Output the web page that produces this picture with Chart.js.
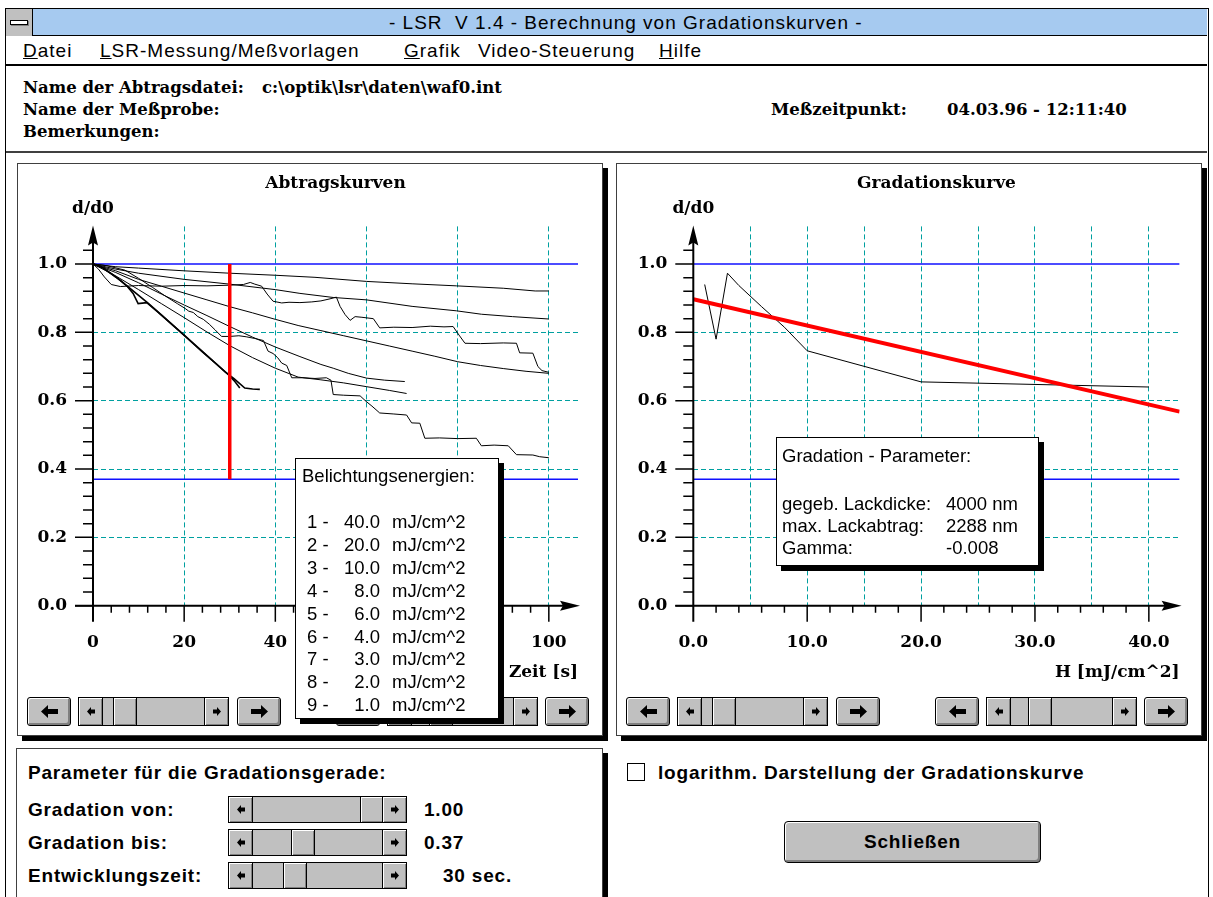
<!DOCTYPE html>
<html lang="de">
<head>
<meta charset="utf-8">
<title>LSR V 1.4 - Berechnung von Gradationskurven</title>
<script src="https://cdn.jsdelivr.net/npm/chart.js@4.4.1/dist/chart.umd.min.js"></script>
<style>
  html, body { margin: 0; padding: 0; }
  body { width: 1213px; height: 897px; overflow: hidden; background: #fff; position: relative;
         font-family: "Liberation Sans", Arial, sans-serif; color: #000; }
  .abs { position: absolute; white-space: pre; }
  .fenster { left: 5px; top: 8px; width: 1202px; height: 900px; border: 1px solid #000; }
  .titel { left: 6px; top: 9px; width: 1201px; height: 27px; background: #a6caf0; border-bottom: 1px solid #000;
           font-size: 19px; letter-spacing: 1px; line-height: 28px; box-sizing: border-box; padding-left: 383px; }
  .sysmenu { left: 6px; top: 9px; width: 26px; height: 27px; background: #c0c0c0; border-right: 1px solid #000; }
  .sysmenu div { position: absolute; left: 4px; top: 11px; width: 16px; height: 3px; background: #fff;
                 border: 1px solid #000; box-shadow: 1px 1px 0 #808080; }
  .menue { left: 6px; top: 37px; width: 1201px; height: 27px; border-bottom: 2px solid #000; }
  .menue span { position: absolute; top: 3px; font-size: 19px; letter-spacing: 1px; line-height: 22px; }
  .kopf { font-family: "DejaVu Serif", serif; font-weight: bold; font-size: 16.5px; line-height: 22px; }
  .kopfende { left: 6px; top: 151px; width: 1201px; height: 2px; background: #404040; }
  .panel { background: #fff; border: 1px solid #404040; box-shadow: 5px 5px 0 #000; box-sizing: border-box; }
  .box { background: #fff; border: 1px solid #000; box-shadow: 5px 5px 0 #000; box-sizing: border-box;
         font-size: 18.5px; line-height: 22px; }
  .box span { position: absolute; white-space: pre; }
  .ui { font-weight: bold; font-size: 19px; line-height: 22px; letter-spacing: 0.8px; }
  .knopf { position: absolute; background: #c0c0c0; border: 1px solid #000; border-radius: 3px; box-sizing: border-box;
           box-shadow: inset 1px 1px 0 #fff, inset -2px -2px 0 #808080;
           display: flex; align-items: center; justify-content: center; }
  .leiste { position: absolute; background: #c0c0c0; border: 1px solid #000; box-sizing: border-box; }
  .leiste div { position: absolute; top: 0; bottom: 0; width: 24px; background: #c0c0c0; box-sizing: border-box;
                box-shadow: inset 1px 1px 0 #fff, inset -1px -1px 0 #808080;
                display: flex; align-items: center; justify-content: center; }
  .leiste .pl { left: 0; border-right: 1px solid #000; }
  .leiste .pr { right: 0; border-left: 1px solid #000; }
  .leiste .daumen { border-left: 1px solid #000; border-right: 1px solid #000; }
  canvas { position: absolute; }
</style>
</head>
<body>

<div class="abs fenster"></div>
<div class="abs titel">- LSR  V 1.4 - Berechnung von Gradationskurven -</div>
<div class="abs sysmenu"><div></div></div>
<div class="abs menue">
  <span style="left:17px"><u>D</u>atei</span>
  <span style="left:94px"><u>L</u>SR-Messung/Meßvorlagen</span>
  <span style="left:398px"><u>G</u>rafik</span>
  <span style="left:472px">Video-Steuerung</span>
  <span style="left:653px"><u>H</u>ilfe</span>
</div>

<div class="abs kopf" style="left:23px; top:77px">Name der Abtragsdatei:</div>
<div class="abs kopf" style="left:262px; top:77px">c:\optik\lsr\daten\waf0.int</div>
<div class="abs kopf" style="left:23px; top:99px">Name der Meßprobe:</div>
<div class="abs kopf" style="left:771px; top:99px">Meßzeitpunkt:</div>
<div class="abs kopf" style="left:947px; top:99px">04.03.96 - 12:11:40</div>
<div class="abs kopf" style="left:23px; top:121px">Bemerkungen:</div>
<div class="abs kopfende"></div>

<div class="abs panel" style="left:17px; top:163px; width:586px; height:573px"></div>
<div class="abs panel" style="left:616px; top:163px; width:586px; height:573px"></div>

<canvas id="abtrag" width="584" height="532" style="left:16px; top:164px"></canvas>
<canvas id="gradation" width="586" height="532" style="left:616px; top:164px"></canvas>

<div class="abs box" id="legende" style="left:295px; top:458px; width:204px; height:261px">
  <span style="left:6px; top:6px">Belichtungsenergien:</span>
</div>

<div class="abs box" style="left:776px; top:437px; width:263px; height:129px">
  <span style="left:5px; top:7px">Gradation - Parameter:</span>
  <span style="left:5px; top:55px">gegeb. Lackdicke:</span><span style="left:169px; top:55px">4000 nm</span>
  <span style="left:5px; top:77px">max. Lackabtrag:</span><span style="left:169px; top:77px">2288 nm</span>
  <span style="left:5px; top:99px">Gamma:</span><span style="left:169px; top:99px">-0.008</span>
</div>

<div class="abs panel" style="left:16px; top:748px; width:587px; height:170px"></div>
<div class="abs ui" style="left:28px; top:762px">Parameter für die Gradationsgerade:</div>
<div class="abs ui" style="left:28px; top:799px">Gradation von:</div>
<div class="abs ui" style="left:28px; top:832px">Gradation bis:</div>
<div class="abs ui" style="left:28px; top:865px">Entwicklungszeit:</div>
<div class="abs ui" id="wertVon" style="left:424px; top:799px"></div>
<div class="abs ui" id="wertBis" style="left:424px; top:832px"></div>
<div class="abs ui" id="wertZeit" style="left:443px; top:865px"></div>

<div class="abs" style="left:627px; top:763px; width:16px; height:16px; border:1px solid #000; background:#fff"></div>
<div class="abs ui" style="left:658px; top:762px">logarithm. Darstellung der Gradationskurve</div>
<div class="knopf ui" style="left:784px; top:821px; width:257px; height:42px; border-radius:4px">Schließen</div>

<script>
// ==================== Messwerte ====================
// Belichtungsenergien in mJ/cm^2, Reihenfolge wie in der Legende
const energien = [40.0, 20.0, 10.0, 8.0, 6.0, 4.0, 3.0, 2.0, 1.0];

// Abtragskurven: [Zeit s, d/d0]
const kurve40 = [[0, 1.0], [2, 0.99], [5, 0.962], [8, 0.93], [10, 0.908], [12, 0.886], [15, 0.851], [18, 0.815],
  [21, 0.779], [24, 0.743], [27, 0.708], [29.7, 0.676], [31, 0.658], [32.2, 0.637]];
const kurve20 = [[0, 1.0], [2, 0.99], [4, 0.972], [6, 0.952], [7.5, 0.935], [8.8, 0.914], [9.9, 0.884], [11.8, 0.887],
  [14, 0.862], [17, 0.827], [20, 0.792], [23, 0.756], [26, 0.72], [29, 0.684], [31, 0.664], [33.3, 0.637],
  [35, 0.634], [36.6, 0.633]];
const kurve10 = [[0, 1.0], [5, 0.965], [10, 0.925], [15, 0.884], [20, 0.843], [25, 0.801], [30, 0.761], [35, 0.726],
  [40, 0.695], [45, 0.669], [50, 0.661], [55, 0.652], [60, 0.641], [65, 0.63], [68.8, 0.621]];
const kurve8 = [[0, 1.0], [5, 0.975], [10, 0.945], [15, 0.912], [20, 0.88], [25, 0.849], [30, 0.817], [35, 0.786],
  [40, 0.757], [45.4, 0.729], [50, 0.706], [52.7, 0.695], [56, 0.68], [60, 0.666], [64, 0.66], [68.4, 0.656]];
const kurve6 = [[0, 1.0], [5, 0.98], [10, 0.955], [15, 0.935], [20, 0.915], [25, 0.895], [30, 0.875], [35, 0.857],
  [40, 0.838], [45, 0.82], [50, 0.805], [55, 0.79], [60, 0.775], [65, 0.76], [70, 0.745], [75, 0.73], [80, 0.714],
  [85, 0.703], [90, 0.694], [95, 0.686], [100, 0.68]];
const kurve4 = [[0, 1.0], [5, 0.985], [10, 0.973], [20, 0.955], [30, 0.941], [40, 0.925], [45.4, 0.914], [52.7, 0.902],
  [60, 0.895], [70, 0.876], [79.7, 0.863], [85.2, 0.853], [92, 0.846], [100, 0.839]];
const kurve3 = [[0, 1.0], [5, 0.992], [10, 0.988], [20, 0.98], [30, 0.973], [40, 0.967], [48.7, 0.961], [60, 0.949],
  [70, 0.942], [79.7, 0.936], [90, 0.929], [97, 0.921], [100, 0.921]];
const kurve2 = [[0, 1.0], [3, 0.995], [7, 0.982], [10, 0.958], [13, 0.932], [16, 0.905], [18.5, 0.884], [20.2, 0.87],
  [21, 0.862], [22, 0.858], [23, 0.846], [24.2, 0.838], [25.5, 0.824], [26.8, 0.807], [28.2, 0.788], [30, 0.788],
  [32, 0.79], [33.6, 0.787], [35.5, 0.782], [37.4, 0.776], [38.4, 0.745], [39.5, 0.738], [40.5, 0.726], [41.4, 0.71],
  [42.5, 0.703], [43.6, 0.667], [46, 0.667], [48.7, 0.665], [51.2, 0.667], [52.2, 0.66], [52.7, 0.618], [55, 0.616],
  [58.6, 0.614], [59.9, 0.598], [61.2, 0.584], [62.9, 0.564], [66, 0.561], [68.8, 0.558], [69.9, 0.535], [71.7, 0.534],
  [72.8, 0.49], [76, 0.491], [80, 0.489], [84.1, 0.49], [85.2, 0.468], [88, 0.47], [91.1, 0.468], [92.9, 0.442],
  [96.5, 0.441], [98, 0.436], [100, 0.433]];
const kurve1 = [[0, 1.0], [1.2, 0.985], [2.5, 0.962], [4, 0.94], [6, 0.934], [10, 0.937], [15, 0.935], [20, 0.937],
  [25, 0.936], [30, 0.938], [33, 0.94], [34.5, 0.946], [35.5, 0.941], [37, 0.935], [38.2, 0.912], [39.5, 0.891],
  [41.4, 0.886], [43, 0.888], [45.4, 0.887], [48, 0.889], [50, 0.892], [52, 0.898], [53.4, 0.903], [54.2, 0.876],
  [55.3, 0.852], [56.4, 0.835], [57.5, 0.846], [59, 0.844], [61.5, 0.84], [62.9, 0.813], [66, 0.815], [70, 0.814],
  [74, 0.818], [77, 0.816], [79, 0.817], [80.3, 0.792], [81.6, 0.768], [85, 0.767], [90, 0.769], [92.9, 0.768],
  [93.6, 0.74], [96.5, 0.739], [97.6, 0.7], [98.5, 0.688], [100, 0.683]];
const abtragskurven = [kurve40, kurve20, kurve10, kurve8, kurve6, kurve4, kurve3, kurve2, kurve1];

// Gradationskurve: d/d0 nach der Entwicklungszeit über der Energie H
const gradH = [1, 2, 3, 4, 6, 8, 10, 20, 40];
const gradD = [0.94, 0.78, 0.973, 0.937, 0.875, 0.815, 0.746, 0.655, 0.64];
// Gradationsgerade, Anfangs- und Endpunkt
const gradGerade = [[0, 0.897], [42.7, 0.568]];

// Parameter für die Gradationsgerade
const gradVon = 1.00;
const gradBis = 0.37;
const entwicklungszeit = 30;

// Achsen
const zeitMax = 106.4;
const hMax = 42.7;
const dMax = 1.11;
const zeitTicks = [0, 20, 40, 60, 80, 100];
const zeitLabels = ['0', '20', '40', '60', '80', '100'];
const hTicks = [0, 5, 10, 15, 20, 25, 30, 35, 40];
const hLabels = ['0.0', '', '10.0', '', '20.0', '', '30.0', '', '40.0'];
const dTicks = [0, 0.2, 0.4, 0.6, 0.8, 1.0];
const dLabels = ['0.0', '0.2', '0.4', '0.6', '0.8', '1.0'];

// ==================== Stil ====================
const blau = '#1010ff';
const rot = '#ff0000';
const tuerkis = '#00a0a0';
const diaFont = { family: 'DejaVu Serif', size: 17, weight: 'bold' };

// ==================== Achsen mit Pfeilen und Teilstrichen ====================
const achsenPlugin = {
    id: 'achsen',
    afterDatasetsDraw(chart, args, o) {
        const { ctx, chartArea: a, scales: { x, y } } = chart;
        const x0 = x.getPixelForValue(0);
        const y0 = y.getPixelForValue(0);
        ctx.save();
        ctx.strokeStyle = '#000';
        ctx.fillStyle = '#000';

        ctx.lineWidth = 2;
        ctx.beginPath();
        ctx.moveTo(x0, y0 + 16);
        ctx.lineTo(x0, a.top + 10);
        ctx.moveTo(x0 - 18, y0);
        ctx.lineTo(a.right - 10, y0);
        ctx.stroke();

        // Pfeilspitzen
        ctx.beginPath();
        ctx.moveTo(x0, a.top - 1);
        ctx.lineTo(x0 - 5, a.top + 19);
        ctx.lineTo(x0, a.top + 16);
        ctx.lineTo(x0 + 5, a.top + 19);
        ctx.closePath();
        ctx.moveTo(a.right + 2, y0);
        ctx.lineTo(a.right - 18, y0 - 5);
        ctx.lineTo(a.right - 15, y0);
        ctx.lineTo(a.right - 18, y0 + 5);
        ctx.closePath();
        ctx.fill();

        // Teilstriche
        ctx.lineWidth = 1.5;
        ctx.beginPath();
        for (let k = 0; k * o.yMinor <= o.yEnde + 1e-9; k++) {
            const py = y.getPixelForValue(k * o.yMinor);
            ctx.moveTo(x0 - (k % 5 === 0 ? 18 : 10), py);
            ctx.lineTo(x0, py);
        }
        for (let k = 1; k * o.xMinor <= o.xEnde + 1e-9; k++) {
            const px = x.getPixelForValue(k * o.xMinor);
            ctx.moveTo(px, y0);
            ctx.lineTo(px, y0 + (k % 5 === 0 ? 16 : 7));
        }
        ctx.stroke();

        ctx.font = 'bold 17px "DejaVu Serif"';
        ctx.textAlign = 'center';
        ctx.textBaseline = 'middle';
        ctx.fillText(o.yTitel, x0, a.top - 18);
        ctx.restore();
    }
};

// ==================== Diagramme ====================
const punkte = arr => arr.map(([x, y]) => ({ x, y }));
const linie = (data, farbe, breite) => ({
    data, borderColor: farbe, borderWidth: breite, pointRadius: 0, showLine: true, fill: false, tension: 0
});

function optionen(cfg) {
    return {
        responsive: false,
        animation: false,
        devicePixelRatio: 1,
        layout: { padding: { left: 0, top: 0, bottom: 0, right: cfg.rechts } },
        plugins: {
            legend: { display: false },
            tooltip: { enabled: false },
            title: {
                display: true, text: cfg.titel, fullSize: false, color: '#000', font: diaFont,
                padding: { top: 9.3, bottom: 32.7 }
            },
            achsen: cfg.achsen
        },
        scales: {
            x: {
                type: 'linear', min: 0, max: cfg.xMax,
                afterFit: s => { s.height = 90.3; },
                afterBuildTicks: s => { s.ticks = cfg.xTicks.map(value => ({ value })); },
                ticks: {
                    callback: (v, i) => cfg.xLabels[i], font: diaFont, color: '#000',
                    padding: 26.3, maxRotation: 0, autoSkip: false
                },
                grid: {
                    color: c => (c.tick && c.tick.value > 0 ? tuerkis : 'transparent'),
                    drawTicks: false, lineWidth: 1, borderDash: [5, 3]
                },
                border: { display: false, dash: [5, 3] },
                title: {
                    display: true, text: cfg.xTitel, align: 'end', color: '#000', font: diaFont,
                    padding: { top: 0, bottom: 12.8 }
                }
            },
            y: {
                type: 'linear', min: 0, max: dMax,
                afterFit: s => { s.width = cfg.links; },
                afterBuildTicks: s => { s.ticks = dTicks.map(value => ({ value })); },
                ticks: {
                    callback: (v, i) => dLabels[i], font: diaFont, color: '#000', padding: 26, autoSkip: false
                },
                grid: {
                    color: c => (c.tick && c.tick.value > 0 && c.tick.value < 0.99 ? tuerkis : 'transparent'),
                    drawTicks: false, lineWidth: 1, borderDash: [5, 3]
                },
                border: { display: false, dash: [5, 3] }
            }
        }
    };
}

new Chart(document.getElementById('abtrag'), {
    type: 'scatter',
    data: {
        datasets: [
            linie(punkte([[entwicklungszeit, gradVon], [entwicklungszeit, gradBis]]), rot, 3.5),
            ...abtragskurven.map((k, i) => linie(punkte(k), '#000', i < 2 ? 1.6 : 1)),
            linie(punkte([[0, gradVon], [zeitMax, gradVon]]), blau, 1.3),
            linie(punkte([[0, gradBis], [zeitMax, gradBis]]), blau, 1.3)
        ]
    },
    options: optionen({
        titel: 'Abtragskurven', xTitel: 'Zeit [s]', xMax: zeitMax, xTicks: zeitTicks, xLabels: zeitLabels,
        links: 77, rechts: 22,
        achsen: { xMinor: 4, xEnde: 100, yMinor: 0.04, yEnde: 1.04, yTitel: 'd/d0' }
    }),
    plugins: [achsenPlugin]
});

new Chart(document.getElementById('gradation'), {
    type: 'scatter',
    data: {
        datasets: [
            linie(punkte(gradGerade), rot, 4),
            linie(gradH.map((h, i) => ({ x: h, y: gradD[i] })), '#000', 1),
            linie(punkte([[0, gradVon], [hMax, gradVon]]), blau, 1.3),
            linie(punkte([[0, gradBis], [hMax, gradBis]]), blau, 1.3)
        ]
    },
    options: optionen({
        titel: 'Gradationskurve', xTitel: 'H [mJ/cm^2]', xMax: hMax, xTicks: hTicks, xLabels: hLabels,
        links: 77.3, rechts: 22.4,
        achsen: { xMinor: 2, xEnde: 40, yMinor: 0.04, yEnde: 1.04, yTitel: 'd/d0' }
    }),
    plugins: [achsenPlugin]
});

// ==================== Legende ====================
const legende = document.getElementById('legende');
energien.forEach((e, i) => {
    const top = 52 + i * 22.9;
    legende.insertAdjacentHTML('beforeend',
        `<span style="left:11px; top:${top}px">${i + 1} -</span>` +
        `<span style="right:118px; top:${top}px">${e.toFixed(1)}</span>` +
        `<span style="left:96px; top:${top}px">mJ/cm^2</span>`);
});

// ==================== Bedienelemente ====================
const pfeilGross = r => `<svg width="17" height="13" viewBox="0 0 17 13"${r ? ' style="transform:scaleX(-1)"' : ''}>` +
    '<path d="M0 6.5 L7 0 L7 4 L17 4 L17 9 L7 9 L7 13 Z"/></svg>';
const pfeilKlein = r => `<svg width="8" height="9" viewBox="0 0 8 9"${r ? ' style="transform:scaleX(-1)"' : ''}>` +
    '<path d="M0 4.5 L4 0 L4 2.5 L8 2.5 L8 6.5 L4 6.5 L4 9 Z"/></svg>';

function knopf(left, top, w, h, rechts) {
    document.body.insertAdjacentHTML('beforeend',
        `<div class="knopf" style="left:${left}px; top:${top}px; width:${w}px; height:${h}px">${pfeilGross(rechts)}</div>`);
}
function leiste(left, top, w, h, daumen) {
    document.body.insertAdjacentHTML('beforeend',
        `<div class="leiste" style="left:${left}px; top:${top}px; width:${w}px; height:${h}px">` +
        `<div class="pl">${pfeilKlein(false)}</div>` +
        `<div class="daumen" style="left:${daumen}px"></div>` +
        `<div class="pr">${pfeilKlein(true)}</div></div>`);
}
function navigation(panelLeft) {
    knopf(panelLeft + 10, 697, 44, 29, false);
    leiste(panelLeft + 61, 697, 151, 29, 34);
    knopf(panelLeft + 220, 697, 44, 29, true);
    knopf(panelLeft + 319, 697, 44, 29, false);
    leiste(panelLeft + 370, 697, 151, 29, 41);
    knopf(panelLeft + 528, 697, 44, 29, true);
}
navigation(17);
navigation(616);
// Legende liegt über den Bedienelementen
document.body.appendChild(legende);

leiste(228, 796, 179, 27, 131);
leiste(228, 829, 179, 27, 62);
leiste(228, 862, 179, 27, 54);
document.getElementById('wertVon').textContent = gradVon.toFixed(2);
document.getElementById('wertBis').textContent = gradBis.toFixed(2);
document.getElementById('wertZeit').textContent = entwicklungszeit + ' sec.';
</script>
</body>
</html>
